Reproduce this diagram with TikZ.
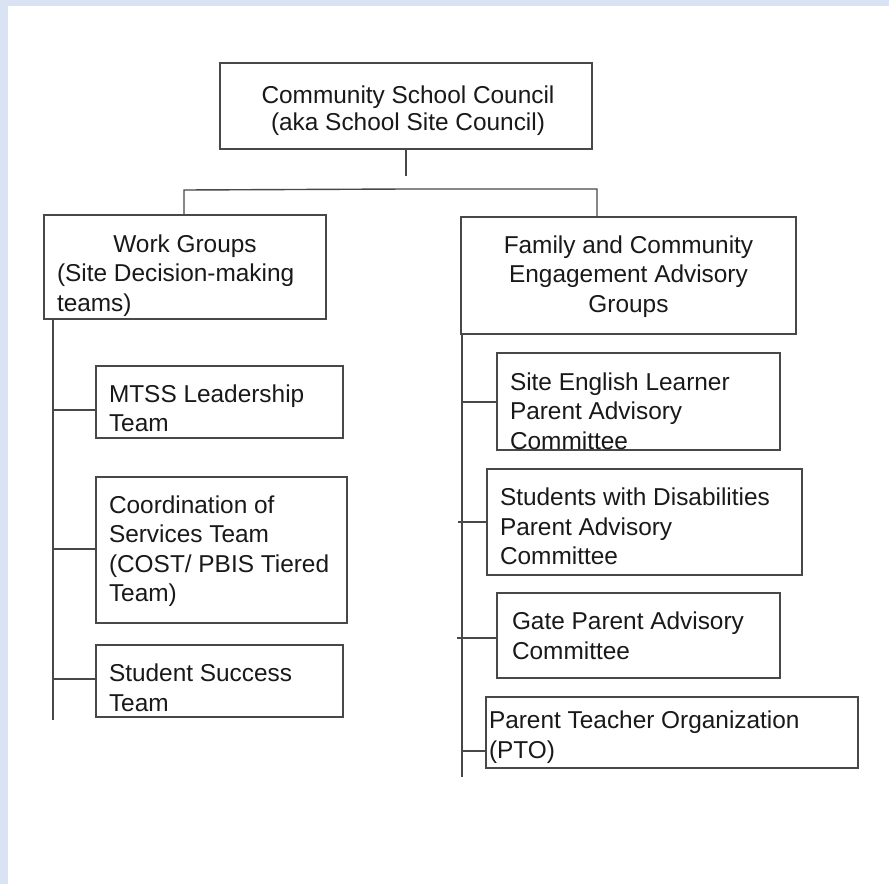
\documentclass[tikz,border=0pt]{standalone}
\usepackage{fontspec}
\setmainfont{Liberation Sans}
\usetikzlibrary{calc}
\definecolor{bgblue}{RGB}{218,227,243}
\definecolor{linegray}{RGB}{72,72,72}
\definecolor{txtcol}{RGB}{25,25,25}
\newcommand{\boxlines}[2]{\begin{tabular}[t]{@{}#1@{}}#2\end{tabular}}
\begin{document}
\begin{tikzpicture}[x=1pt,y=-1pt,
  box/.style={draw=linegray, line width=1.4pt, rectangle, inner sep=0pt, outer sep=0pt, anchor=north west},
  conn/.style={draw=linegray, line width=1.4pt},
  lbl/.style={inner sep=0pt, outer sep=0pt, anchor=base west, text=txtcol, font=\fontsize{24.4}{29.5}\selectfont},
  lblc/.style={inner sep=0pt, outer sep=0pt, anchor=base, text=txtcol, font=\fontsize{24.4}{29.5}\selectfont}]
\useasboundingbox (0,0) rectangle (889,884);
\fill[bgblue] (0,0) rectangle (889,884);
\fill[white] (8,6) rectangle (889,884);

% boxes
\node[box, minimum width=372, minimum height=86] (csc) at (220,63) {};
\node[box, minimum width=282, minimum height=104] (wg) at (44,215) {};
\node[box, minimum width=335, minimum height=117] (fam) at (461,217) {};
\node[box, minimum width=247, minimum height=72] (mtss) at (96,366) {};
\node[box, minimum width=251, minimum height=146] (cost) at (96,477) {};
\node[box, minimum width=247, minimum height=72] (sst) at (96,645) {};
\node[box, minimum width=283, minimum height=97] (sel) at (497,353) {};
\node[box, minimum width=315, minimum height=106] (swd) at (487,469) {};
\node[box, minimum width=283, minimum height=85] (gate) at (497,593) {};
\node[box, minimum width=372, minimum height=71] (pto) at (486,697) {};

% texts
\node[lblc, font=\fontsize{24.4}{27}\selectfont] (csct) at ($(csc.north)+(2,40)$) {\boxlines{c}{Community School Council\\(aka School Site Council)}};
\node[lbl] (wgt) at ($(wg.north west)+(13,37)$) {\boxlines{l}{\makebox[256pt][c]{Work Groups}\\(Site Decision-making\\teams)}};
\node[lblc] (famt) at ($(fam.north)+(0,36)$) {\boxlines{c}{Family and Community\\Engagement Advisory\\Groups}};
\node[lbl] (mtsst) at ($(mtss.north west)+(13,36)$) {\boxlines{l}{MTSS Leadership\\Team}};
\node[lbl] (costt) at ($(cost.north west)+(13,36)$) {\boxlines{l}{Coordination of\\Services Team\\(COST/ PBIS Tiered\\Team)}};
\node[lbl] (sstt) at ($(sst.north west)+(13,36.5)$) {\boxlines{l}{Student Success\\Team}};
\node[lbl] (selt) at ($(sel.north west)+(13,37)$) {\boxlines{l}{Site English Learner\\Parent Advisory\\Committee}};
\node[lbl] (swdt) at ($(swd.north west)+(13,36.5)$) {\boxlines{l}{Students with Disabilities\\Parent Advisory\\Committee}};
\node[lbl] (gatet) at ($(gate.north west)+(15,36.5)$) {\boxlines{l}{Gate Parent Advisory\\Committee}};
\node[lbl] (ptot) at ($(pto.north west)+(3,31.5)$) {\boxlines{l}{Parent Teacher Organization\\(PTO)}};

% top connectors
\coordinate (cscend) at (406,176);
\coordinate (barL) at (184,190);
\coordinate (barM) at (405,189);
\coordinate (barR) at (597,189);
\draw[conn] (csc.south) -- (cscend);
\draw[conn] (wg.north -| barL) -- (barL) -- (barM) -- (barR) -- (fam.north -| barR);

% left trunk
\coordinate (ltop) at (53,319);
\coordinate (lend) at (53,720);
\draw[conn] (ltop) -- (lend);
\coordinate (l1) at (53,410);
\coordinate (l2) at (53,549);
\coordinate (l3) at (53,679);
\draw[conn] (l1) -- (l1 -| mtss.west);
\draw[conn] (l2) -- (l2 -| cost.west);
\draw[conn] (l3) -- (l3 -| sst.west);

% right trunk
\coordinate (rtop) at (462,334);
\coordinate (rend) at (462,777);
\draw[conn] (rtop) -- (rend);
\coordinate (r1) at (462,402);
\coordinate (r2) at (458,522);
\coordinate (r3) at (457,638);
\coordinate (r4) at (462,751);
\draw[conn] (r1) -- (r1 -| sel.west);
\draw[conn] (r2) -- (r2 -| swd.west);
\draw[conn] (r3) -- (r3 -| gate.west);
\draw[conn] (r4) -- (r4 -| pto.west);
\end{tikzpicture}
\end{document}
